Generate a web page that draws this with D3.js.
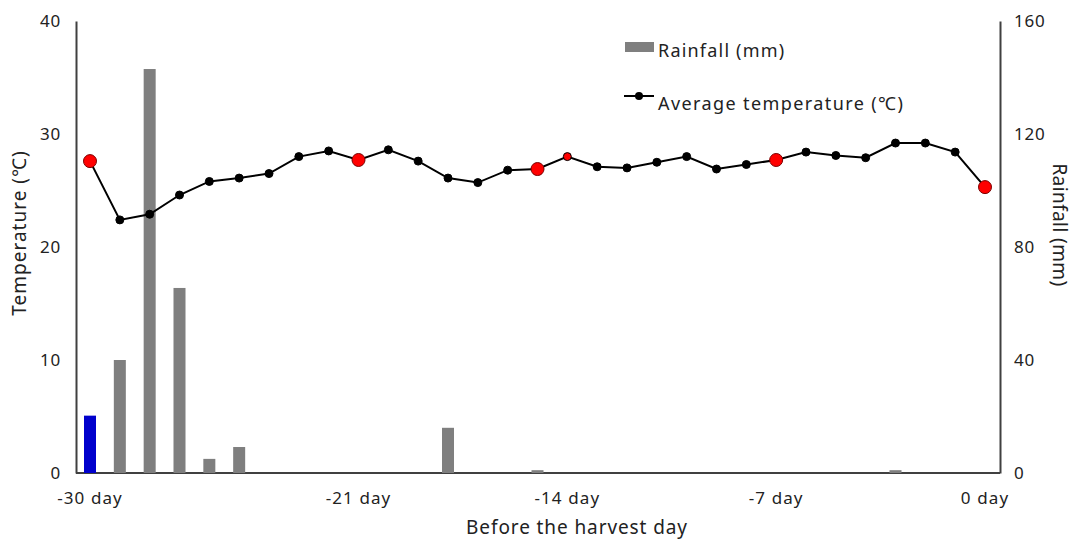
<!DOCTYPE html>
<html>
<head>
<meta charset="utf-8">
<script src="https://cdn.jsdelivr.net/npm/d3@7"></script>
<style>
  body { margin: 0; background: #fff; }
  svg text { font-family: "Noto Sans", "Open Sans", sans-serif; fill: #222; }
  .axis path, .axis line { stroke: #404040; }
</style>
</head>
<body>
<svg id="chart" width="1075" height="541"></svg>
<script>
// days before harvest
const days = d3.range(-30, 1);

// average temperature (℃) per day, -30 .. 0
const temperature = [27.6, 22.4, 22.9, 24.6, 25.8, 26.1, 26.5, 28.0, 28.5, 27.7,
                     28.6, 27.6, 26.1, 25.7, 26.8, 26.9, 28.0, 27.1, 27.0, 27.5,
                     28.0, 26.9, 27.3, 27.7, 28.4, 28.1, 27.9, 29.2, 29.2, 28.4, 25.3];

// days where the marker is drawn red (big) and the small red one
const redDays = [-30, -21, -15, -7, 0];
const smallRedDays = [-14];

// rainfall (mm) - only days that had rain
const rainDays = [-30, -29, -28, -27, -26, -25, -18, -15, -3];
const rainfall = [20.3, 40, 143, 65.5, 5, 9.2, 16, 1, 1];

const xTicks = [-30, -21, -14, -7, 0];
const tempTicks = [0, 10, 20, 30, 40];
const rainTicks = [0, 40, 80, 120, 160];

let svg = d3.select('#chart');

let x = d3.scaleLinear().domain([-30, 0]).range([90, 985]);
let yT = d3.scaleLinear().domain([0, 40]).range([473, 21]);
let yR = d3.scaleLinear().domain([0, 160]).range([473, 21]);

// Left axis
let leftAx = svg.append('g')
    .attr('class', 'axis')
    .attr('transform', 'translate(76,0)')
    .call(d3.axisLeft(yT).tickValues(tempTicks).tickSize(0).tickPadding(15));
leftAx.select('.domain').attr('stroke-width', 2);
leftAx.selectAll('text').style('font-size', '17px').style('letter-spacing', '0.8px');

// Right axis
let rightAx = svg.append('g')
    .attr('class', 'axis')
    .attr('transform', 'translate(1000,0)')
    .call(d3.axisRight(yR).tickValues(rainTicks).tickSize(0).tickPadding(14));
rightAx.select('.domain').attr('stroke-width', 2);
rightAx.selectAll('text').style('font-size', '17px').style('letter-spacing', '0.8px');

// Bottom axis (line spans between the two vertical axes)
svg.append('line')
    .attr('x1', 76).attr('x2', 1000)
    .attr('y1', 473).attr('y2', 473)
    .attr('stroke', '#404040')
    .attr('stroke-width', 2);

svg.append('g')
    .selectAll('text')
    .data(xTicks)
    .join('text')
    .attr('x', d => x(d))
    .attr('y', 504)
    .attr('text-anchor', 'middle')
    .style('font-size', '17px')
    .style('letter-spacing', '1.1px')
    .text(d => d + ' day');

// Rain bars
svg.append('g')
    .selectAll('rect')
    .data(rainDays.map((d, i) => ({day: d, rain: rainfall[i]})))
    .join('rect')
    .attr('x', d => x(d.day) - 6)
    .attr('width', 12)
    .attr('y', d => yR(d.rain))
    .attr('height', d => yR(0) - yR(d.rain))
    .attr('fill', d => d.day === -30 ? '#0000cc' : '#7f7f7f');

// Temperature line
let tempData = days.map((d, i) => ({day: d, temp: temperature[i]}));

svg.append('path')
    .datum(tempData)
    .attr('fill', 'none')
    .attr('stroke', '#000')
    .attr('stroke-width', 2)
    .attr('d', d3.line().x(d => x(d.day)).y(d => yT(d.temp)));

svg.append('g')
    .selectAll('circle')
    .data(tempData)
    .join('circle')
    .attr('cx', d => x(d.day))
    .attr('cy', d => yT(d.temp))
    .attr('r', d => redDays.includes(d.day) ? 6.5 : 4)
    .attr('fill', d => (redDays.includes(d.day) || smallRedDays.includes(d.day)) ? '#ff0000' : '#000')
    .attr('stroke', d => redDays.includes(d.day) ? '#7a0000' : '#000')
    .attr('stroke-width', 1);

// Axis titles
svg.append('text')
    .attr('transform', 'translate(26,233) rotate(-90)')
    .attr('text-anchor', 'middle')
    .style('font-size', '19px')
    .style('letter-spacing', '1px')
    .text('Temperature (℃)');

svg.append('text')
    .attr('transform', 'translate(1053,225) rotate(90)')
    .attr('text-anchor', 'middle')
    .style('font-size', '19px')
    .style('letter-spacing', '0.4px')
    .text('Rainfall (mm)');

svg.append('text')
    .attr('x', 577)
    .attr('y', 534)
    .attr('text-anchor', 'middle')
    .style('font-size', '19px')
    .style('letter-spacing', '0.9px')
    .text('Before the harvest day');

// Legend
let legend = svg.append('g');
legend.append('rect')
    .attr('x', 625).attr('y', 42)
    .attr('width', 29).attr('height', 10)
    .attr('fill', '#7f7f7f');
legend.append('text')
    .attr('x', 658).attr('y', 57)
    .style('font-size', '18px')
    .style('letter-spacing', '1.2px')
    .text('Rainfall (mm)');
legend.append('line')
    .attr('x1', 624).attr('x2', 654)
    .attr('y1', 96).attr('y2', 96)
    .attr('stroke', '#000').attr('stroke-width', 2);
legend.append('circle')
    .attr('cx', 639).attr('cy', 96).attr('r', 4)
    .attr('fill', '#000');
legend.append('text')
    .attr('x', 658).attr('y', 110)
    .style('font-size', '18px')
    .style('letter-spacing', '1.4px')
    .text('Average temperature (℃)');
</script>
</body>
</html>
